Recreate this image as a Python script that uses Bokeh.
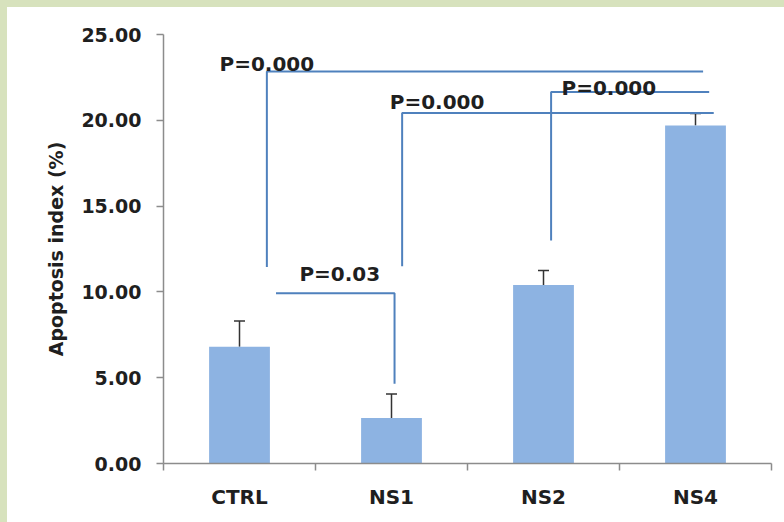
from bokeh.plotting import figure
from bokeh.models import (Range1d, FixedTicker, NumeralTickFormatter, ColumnDataSource,
                          Whisker, TeeHead)
from bokeh.core.properties import value
from bokeh.embed import file_html
from bokeh.resources import INLINE
import numpy as np

# ---- data ----
categories = ["CTRL", "NS1", "NS2", "NS4"]
means = [6.8, 2.65, 10.4, 19.7]
errors = [1.5, 1.4, 0.85, 0.7]
y_ticks = [0, 5, 10, 15, 20, 25]

# significance brackets (data units): vertical leg x, leg bottom, bar y, horizontal end x
bracket_leg_x = [0.68, 1.52, 1.57, 2.55]
bracket_leg_bottom = [11.45, 4.65, 11.5, 13.0]
bracket_y = [22.85, 9.92, 20.42, 21.65]
bracket_other_x = [3.55, 0.74, 3.62, 3.59]
p_labels = ["P=0.000", "P=0.03", "P=0.000", "P=0.000"]
p_label_x = [0.68, 1.16, 1.80, 2.93]
p_label_y = [23.3, 11.05, 21.05, 21.9]

FONT = "DejaVu Sans"
TXT = "#1f1f1f"
BLUE = "#4F81BD"
AXIS = "#8C8C8C"

x = np.arange(len(categories)) + 0.5

p = figure(width=776, height=514, output_backend="svg", toolbar_location=None,
           x_range=Range1d(0, len(categories)), y_range=Range1d(0, 25),
           min_border_left=156, min_border_right=12, min_border_top=27, min_border_bottom=58)
p.outline_line_color = None
p.grid.grid_line_color = None
p.background_fill_color = "white"
p.border_fill_color = "white"

src = ColumnDataSource(dict(x=x, mean=means, upper=np.array(means) + np.array(errors)))
p.vbar(x="x", top="mean", width=0.4, bottom=0, source=src, fill_color="#8DB3E2", line_color=None)

wh = Whisker(source=src, base="x", upper="upper", lower="mean", dimension="height",
             line_color="#333333", line_width=1.5,
             upper_head=TeeHead(size=11, line_color="#333333", line_width=1.5),
             lower_head=None)
p.add_layout(wh)

# brackets
xs, ys = [], []
for lx, lb, by, ox in zip(bracket_leg_x, bracket_leg_bottom, bracket_y, bracket_other_x):
    if ox > lx:
        xs.append([lx, lx, ox]); ys.append([lb, by, by])
    else:
        xs.append([ox, lx, lx]); ys.append([by, by, lb])
p.multi_line(xs=xs, ys=ys, line_color=BLUE, line_width=2)

p.text(x=p_label_x, y=p_label_y, text=p_labels, text_font=value(FONT), text_font_style="bold",
       text_font_size="20px", text_color=TXT, text_align="center", text_baseline="middle")

# axes
yax = p.yaxis[0]
yax.ticker = FixedTicker(ticks=y_ticks, minor_ticks=[])
yax.formatter = NumeralTickFormatter(format="0.00")
yax.axis_line_color = AXIS
yax.axis_line_width = 1.5
yax.major_tick_line_color = AXIS
yax.major_tick_line_width = 1.5
yax.major_tick_out = 7
yax.major_tick_in = 0
yax.minor_tick_line_color = None
yax.major_label_text_font = FONT
yax.major_label_text_font_style = "bold"
yax.major_label_text_font_size = "19px"
yax.major_label_text_color = TXT
yax.major_label_standoff = 15
yax.axis_label = "Apoptosis index (%)"
yax.axis_label_text_font = FONT
yax.axis_label_text_font_style = "bold"
yax.axis_label_text_font_size = "19px"
yax.axis_label_text_color = TXT
yax.axis_label_standoff = 11

xax = p.xaxis[0]
xax.ticker = FixedTicker(ticks=list(x), minor_ticks=list(range(len(categories) + 1)))
xax.major_label_overrides = {float(v): c for v, c in zip(x, categories)}
xax.axis_line_color = AXIS
xax.axis_line_width = 1.5
xax.major_tick_line_color = None
xax.major_tick_out = 0
xax.major_tick_in = 0
xax.minor_tick_line_color = AXIS
xax.minor_tick_line_width = 1.5
xax.minor_tick_out = 7
xax.minor_tick_in = 0
xax.major_label_text_font = FONT
xax.major_label_text_font_style = "bold"
xax.major_label_text_font_size = "20px"
xax.major_label_text_color = TXT
xax.major_label_standoff = 14

html = file_html(p, INLINE)
css = ("<style>html{background:#fff !important;}"
       "body{margin:0 !important;padding:0 !important;background:#fff !important;"
       "border-left:7px solid #D7E2BD !important;border-top:7px solid #D7E2BD !important;"
       "box-sizing:border-box !important;}</style></head>")
html = html.replace("</head>", css, 1)
open("out.html", "w").write(html)
